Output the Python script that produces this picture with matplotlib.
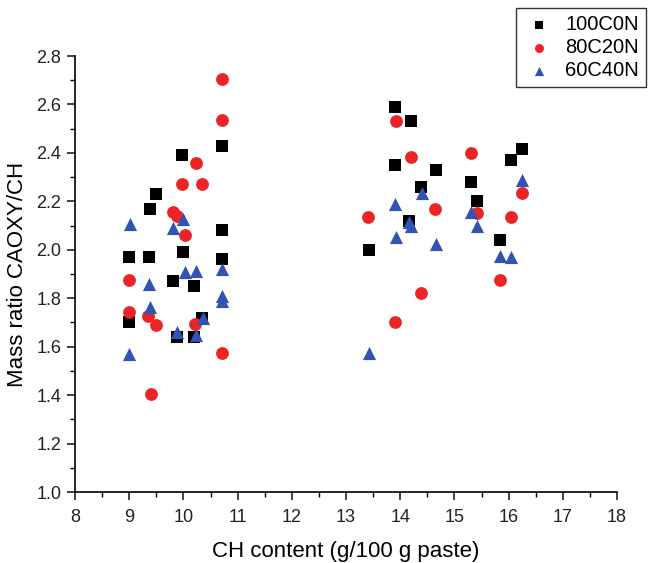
import numpy as np
import matplotlib
matplotlib.use('Agg')
import matplotlib.pyplot as plt
from matplotlib.ticker import MultipleLocator

plt.rcParams['font.family'] = ['Liberation Sans', 'DejaVu Sans']

# 100C0N
x_100 = [9.0, 9.0, 9.37, 9.38, 9.49, 9.81, 9.88, 9.97, 10.0, 10.2, 10.2, 10.34,
         10.71, 10.71, 10.71,
         13.42, 13.90, 13.90, 14.2, 14.16, 14.38, 14.66, 15.31, 15.42, 15.85, 16.04, 16.25]
y_100 = [1.70, 1.97, 1.97, 2.17, 2.23, 1.87, 1.64, 2.39, 1.99, 1.85, 1.64, 1.72,
         2.43, 2.08, 1.96,
         2.00, 2.59, 2.35, 2.53, 2.12, 2.26, 2.33, 2.28, 2.20, 2.04, 2.37, 2.415]

# 80C20N
x_80 = [10.72, 10.72, 10.23, 9.98, 10.35, 9.80, 9.88, 10.02, 9.0, 8.99, 9.35, 9.49,
        10.21, 10.72, 9.40,
        13.92, 14.19, 15.30, 16.25, 13.41, 14.65, 15.42, 16.04, 15.85, 14.39, 13.91]
y_80 = [2.705, 2.536, 2.36, 2.27, 2.27, 2.157, 2.14, 2.06, 1.875, 1.742, 1.728, 1.69,
        1.695, 1.573, 1.405,
        2.533, 2.384, 2.40, 2.235, 2.137, 2.167, 2.15, 2.137, 1.875, 1.82, 1.70]

# 60C40N
x_60 = [9.01, 9.80, 10.0, 10.72, 10.02, 10.23, 9.37, 10.72, 10.72, 9.38, 10.36, 9.89,
        10.23, 8.99,
        16.25, 13.91, 14.40, 15.30, 14.16, 14.20, 15.42, 13.92, 14.66, 15.85, 16.05, 13.42]
y_60 = [2.105, 2.09, 2.126, 1.92, 1.91, 1.914, 1.86, 1.81, 1.79, 1.763, 1.717, 1.66,
        1.65, 1.57,
        2.29, 2.19, 2.236, 2.157, 2.116, 2.10, 2.10, 2.054, 2.025, 1.976, 1.97, 1.573]

fig = plt.figure(figsize=(6.49, 5.63), dpi=100)
ax = fig.add_axes([0.1156, 0.1261, 0.8351, 0.7744])

ax.scatter(x_100, y_100, marker='s', s=78, color='black', label='100C0N', linewidths=0)
ax.scatter(x_80, y_80, marker='o', s=85, color='#ec2426', label='80C20N', linewidths=0)
ax.scatter(x_60, y_60, marker='^', s=90, color='#3153b3', label='60C40N', linewidths=0)

ax.set_xlim(8, 18)
ax.set_ylim(1.0, 2.8)
ax.xaxis.set_major_locator(MultipleLocator(1))
ax.xaxis.set_minor_locator(MultipleLocator(0.5))
ax.yaxis.set_major_locator(MultipleLocator(0.2))
ax.yaxis.set_minor_locator(MultipleLocator(0.1))
ax.yaxis.set_major_formatter(matplotlib.ticker.FormatStrFormatter('%.1f'))

ax.spines['top'].set_visible(False)
ax.spines['right'].set_visible(False)
for sp in ['left', 'bottom']:
    ax.spines[sp].set_linewidth(1.2)
ax.tick_params(which='major', direction='out', length=6, width=1.2, labelsize=13,
               colors='#222222', pad=4)
ax.tick_params(axis='x', which='major', pad=6)
ax.tick_params(which='minor', direction='out', length=3.5, width=1.0)

ax.set_xlabel('CH content (g/100 g paste)', fontsize=16, labelpad=11)
ax.set_ylabel('Mass ratio CAOXY/CH', fontsize=16, labelpad=6)

leg = fig.legend(loc='upper left', bbox_to_anchor=(0.795, 0.986), borderaxespad=0,
                 fontsize=14.5, frameon=True, fancybox=False, edgecolor='black',
                 handletextpad=0.5, handlelength=1.6, borderpad=0.35,
                 labelspacing=0.2, markerscale=0.7)
leg.get_frame().set_linewidth(1.0)

fig.savefig('out.png', dpi=100)
